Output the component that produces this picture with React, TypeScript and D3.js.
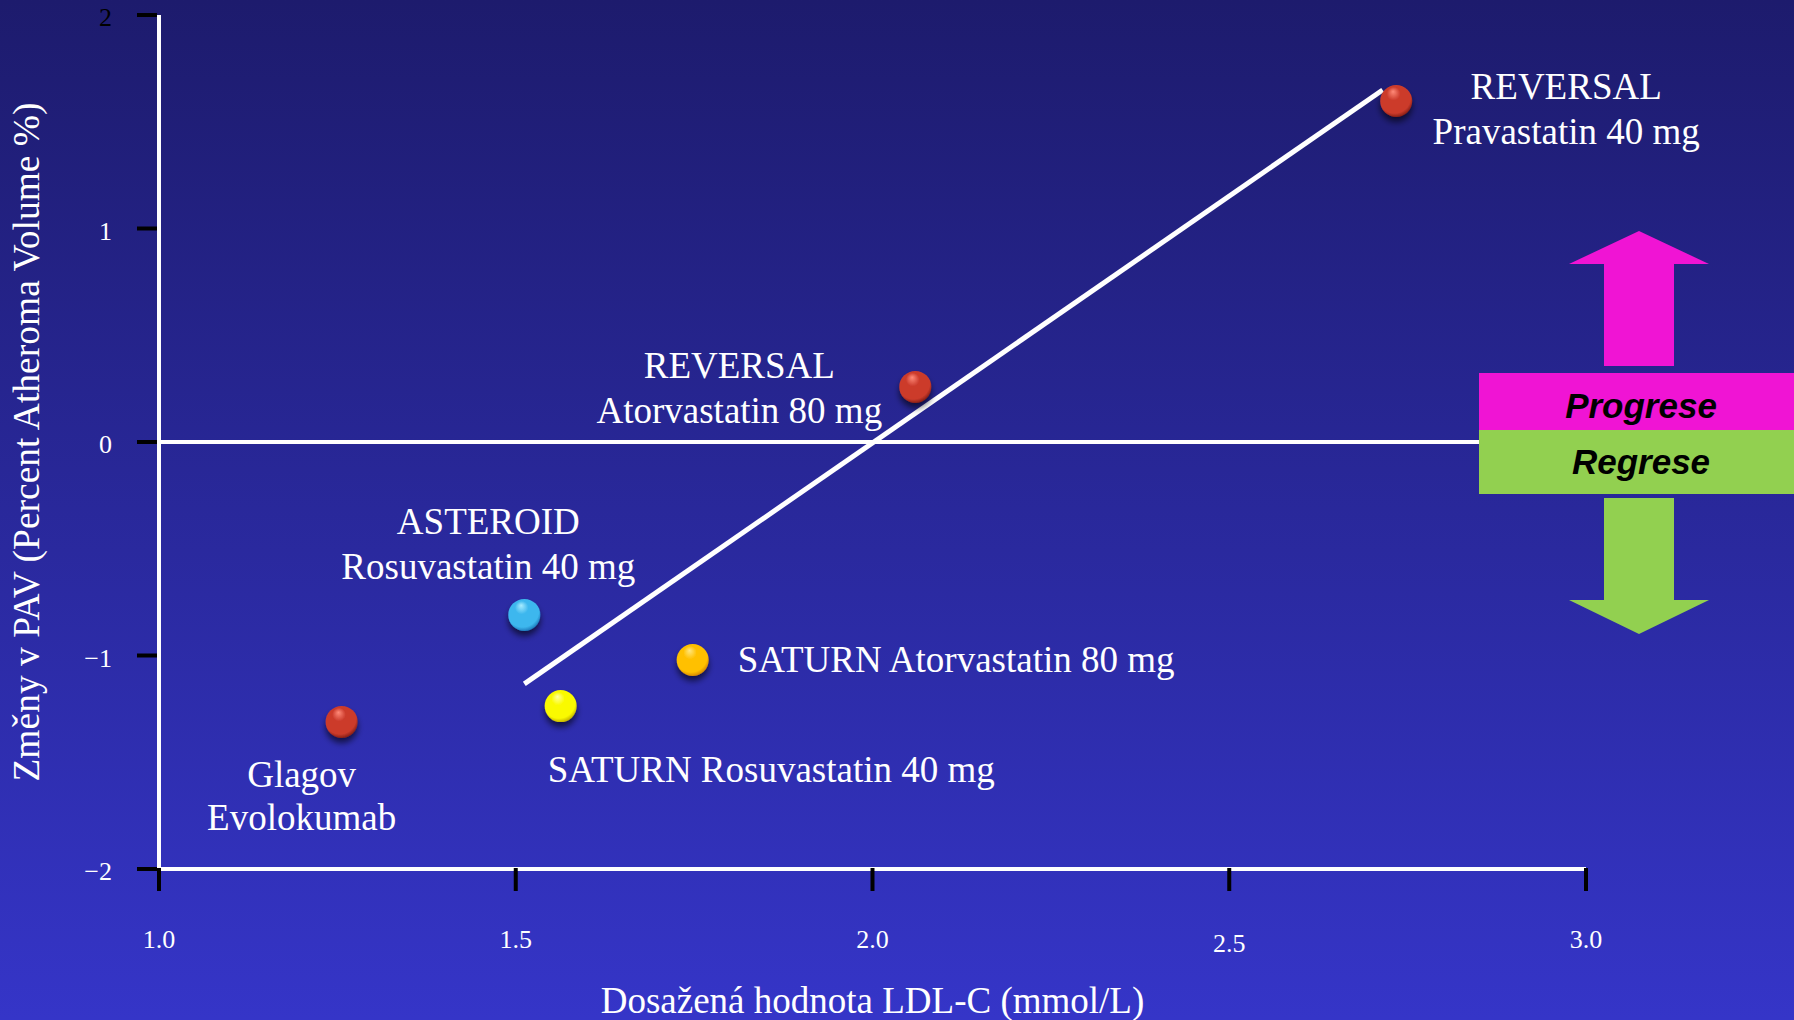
import React from "react";
import * as d3 from "d3";

// ---- data ----
const studyNames = ["Glagov", "ASTEROID", "SATURN Rosu", "SATURN Atorva", "REVERSAL Atorva", "REVERSAL Prava"];
const ldlValues = [1.256, 1.512, 1.563, 1.748, 2.06, 2.734];
const pavValues = [-1.311, -0.81, -1.237, -1.021, 0.258, 1.597];
const labelLines = [
  ["Glagov", "Evolokumab"],
  ["ASTEROID", "Rosuvastatin 40 mg"],
  ["SATURN Rosuvastatin 40 mg"],
  ["SATURN Atorvastatin 80 mg"],
  ["REVERSAL", "Atorvastatin 80 mg"],
  ["REVERSAL", "Pravastatin 40 mg"],
];
const trendX = [1.512, 2.715];
const trendY = [-1.133, 1.649];
const xTicks = [1.0, 1.5, 2.0, 2.5, 3.0];
const xTickLabels = ["1.0", "1.5", "2.0", "2.5", "3.0"];
const yTicks = [2, 1, 0, -1, -2];
const yTickLabels = ["2", "1", "0", "\u22121", "\u22122"];

// ---- styles / layout ----
const W = 1794;
const H = 1020;
const sphereStyles = [
  { light: "#ff8a78", base: "#cc3b2c", dark: "#8a2016" },
  { light: "#a8ecff", base: "#3db7ee", dark: "#1f7fc0" },
  { light: "#ffffa0", base: "#fafa00", dark: "#c8b800" },
  { light: "#ffe680", base: "#ffc000", dark: "#d88a00" },
  { light: "#ff8a78", base: "#cc3b2c", dark: "#8a2016" },
  { light: "#ff8a78", base: "#cc3b2c", dark: "#8a2016" },
];
const labelLayout = [
  { dx: -40, dy: [65, 108], anchor: "middle" },
  { dx: -36, dy: [-81, -36], anchor: "middle" },
  { dx: -13, dy: [76], anchor: "start" },
  { dx: 45, dy: [12], anchor: "start" },
  { dx: -176, dy: [-9, 36], anchor: "middle" },
  { dx: 170, dy: [-2, 43], anchor: "middle" },
];

const serif = "'Liberation Serif', 'Times New Roman', serif";
const sans = "'Liberation Sans', Arial, sans-serif";

export default function App() {
  const x = d3.scaleLinear().domain([1, 3]).range([159, 1586]);
  const y = d3.scaleLinear().domain([-2, 2]).range([869, 15]);
  const line = d3
    .line<number>()
    .x((_, i) => x(trendX[i]))
    .y((d) => y(d));

  const boxLeft = 1479;
  const zeroY = y(0);

  return (
    <svg
      width={W}
      height={H}
      style={{ position: "absolute", left: 0, top: 0, display: "block" }}
    >
      <defs>
        <linearGradient id="bg" x1="0" y1="0" x2="0" y2="1">
          <stop offset="0" stopColor="#1d1b6d" />
          <stop offset="1" stopColor="#3535c8" />
        </linearGradient>
        {sphereStyles.map((s, i) => (
          <radialGradient key={i} id={`sph${i}`} cx="0.45" cy="0.4" r="0.6" fx="0.4" fy="0.2">
            <stop offset="0" stopColor={s.light} />
            <stop offset="0.35" stopColor={s.base} />
            <stop offset="0.85" stopColor={s.base} />
            <stop offset="1" stopColor={s.dark} />
          </radialGradient>
        ))}
        <filter id="shadow" x="-50%" y="-50%" width="200%" height="200%">
          <feGaussianBlur in="SourceAlpha" stdDeviation="3" />
          <feOffset dx="0" dy="5" result="b" />
          <feComponentTransfer>
            <feFuncA type="linear" slope="0.6" />
          </feComponentTransfer>
          <feMerge>
            <feMergeNode />
            <feMergeNode in="SourceGraphic" />
          </feMerge>
        </filter>
      </defs>
      <rect x={0} y={0} width={W} height={H} fill="url(#bg)" />

      {/* zero line */}
      <line x1={x(1)} x2={boxLeft} y1={zeroY} y2={zeroY} stroke="#fff" strokeWidth={4} />

      {/* axes */}
      <line x1={x(1)} x2={x(1)} y1={y(2)} y2={y(-2) + 2} stroke="#fff" strokeWidth={4} />
      <line x1={x(1) - 2} x2={x(3)} y1={y(-2)} y2={y(-2)} stroke="#fff" strokeWidth={4} />

      {yTicks.map((t, i) => (
        <g key={`yt${i}`}>
          <line x1={137} x2={157} y1={y(t)} y2={y(t)} stroke="#000" strokeWidth={4} />
          <text
            x={112}
            y={y(t) + 11}
            textAnchor="end"
            fontFamily={serif}
            fontSize={26}
            fill={i === 0 ? "#000" : "#fff"}
          >
            {yTickLabels[i]}
          </text>
        </g>
      ))}
      {xTicks.map((t, i) => (
        <g key={`xt${i}`}>
          <line x1={x(t)} x2={x(t)} y1={y(-2) - 1} y2={y(-2) + 22} stroke="#000" strokeWidth={4} />
          <text
            x={x(t)}
            y={i === 3 ? 952 : 948}
            textAnchor="middle"
            fontFamily={serif}
            fontSize={26}
            fill="#fff"
          >
            {xTickLabels[i]}
          </text>
        </g>
      ))}

      {/* axis titles */}
      <text x={x(2)} y={1013} textAnchor="middle" fontFamily={serif} fontSize={37} fill="#fff">
        Dosažená hodnota LDL-C (mmol/L)
      </text>
      <text
        transform={`translate(39, ${zeroY}) rotate(-90)`}
        textAnchor="middle"
        fontFamily={serif}
        fontSize={37.5}
        fill="#fff"
      >
        Změny v PAV (Percent Atheroma Volume %)
      </text>

      {/* trend line */}
      <path d={line(trendY) || ""} stroke="#fff" strokeWidth={5} fill="none" />

      {/* points */}
      {ldlValues.map((v, i) => (
        <circle
          key={`p${i}`}
          cx={x(v)}
          cy={y(pavValues[i])}
          r={16}
          fill={`url(#sph${i})`}
          filter="url(#shadow)"
        >
          <title>{studyNames[i]}</title>
        </circle>
      ))}

      {/* labels */}
      {labelLines.map((lines, i) => {
        const L = labelLayout[i];
        const px = x(ldlValues[i]);
        const py = y(pavValues[i]);
        return (
          <g key={`l${i}`}>
            {lines.map((txt, j) => (
              <text
                key={j}
                x={px + L.dx}
                y={py + L.dy[j]}
                textAnchor={L.anchor as any}
                fontFamily={serif}
                fontSize={37}
                fill="#fff"
              >
                {txt}
              </text>
            ))}
          </g>
        );
      })}

      {/* progression / regression legend */}
      <polygon points="1639,231 1709,264 1674,264 1674,366 1604,366 1604,264 1569,264" fill="#f014d4" />
      <rect x={boxLeft} y={373} width={W - boxLeft} height={57} fill="#f014d4" />
      <rect x={boxLeft} y={430} width={W - boxLeft} height={64} fill="#92d050" />
      <polygon points="1604,498 1674,498 1674,600 1709,600 1639,634 1569,600 1604,600" fill="#92d050" />
      <text x={1641} y={418} textAnchor="middle" fontFamily={sans} fontWeight="bold" fontStyle="italic" fontSize={35} fill="#000">
        Progrese
      </text>
      <text x={1641} y={474} textAnchor="middle" fontFamily={sans} fontWeight="bold" fontStyle="italic" fontSize={35} fill="#000">
        Regrese
      </text>
    </svg>
  );
}
